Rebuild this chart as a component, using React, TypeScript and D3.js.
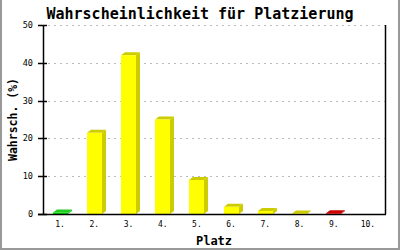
import React from "react";
import * as d3 from "d3";

const categories = ["1.", "2.", "3.", "4.", "5.", "6.", "7.", "8.", "9.", "10."];
const values = [0.4, 21.5, 42, 25, 9, 1.9, 0.8, 0.15, 0.2, 0];
const barColors = ["green", "yellow", "yellow", "yellow", "yellow", "yellow", "yellow", "yellow", "red", "yellow"];
const yTicks = [0, 10, 20, 30, 40, 50];
const title = "Wahrscheinlichkeit für Platzierung";
const xTitle = "Platz";
const yTitle = "Wahrsch. (%)";

const palette: Record<string, { front: string; dark: string }> = {
  yellow: { front: "#ffff00", dark: "#cccc00" },
  green: { front: "#00dd00", dark: "#22cc22" },
  red: { front: "#ff0000", dark: "#cc0000" },
};

export default function App() {
  const W = 400, H = 250;
  const left = 43, right = 385, top = 25, bottom = 214;
  const x = d3.scaleBand<string>().domain(categories).range([left, right]);
  const y = d3.scaleLinear().domain([0, 50]).range([bottom, top]);
  const bw = 15, dx = 4, dy = 3;
  const mono = "'DejaVu Sans Mono', 'Liberation Mono', monospace";

  return (
    <svg width={W} height={H} style={{ position: "absolute", left: 0, top: 0, background: "#fff" }}>
      <rect x={0} y={0} width={W} height={H} fill="#fff" />
      {/* frame */}
      <line x1={1} y1={0} x2={1} y2={H} stroke="#999" strokeWidth={2} />
      <line x1={399} y1={0} x2={399} y2={H} stroke="#999" strokeWidth={2} />
      <line x1={0} y1={249} x2={W} y2={249} stroke="#999" strokeWidth={2} />

      {/* gridlines */}
      {yTicks.filter((t) => t > 0).map((t) => (
        <line key={"g" + t} x1={48} x2={right} y1={Math.round(y(t)) + 0.5} y2={Math.round(y(t)) + 0.5}
          stroke="#bbbbbb" strokeDasharray="2,4" />
      ))}

      {/* bars */}
      {values.map((v, i) => {
        if (v <= 0) return null;
        const cx = (x(categories[i]) as number) + x.bandwidth() / 2;
        const x0 = Math.round(cx - bw / 2);
        const yT = y(v);
        const c = palette[barColors[i]];
        return (
          <g key={"b" + i}>
            <polygon
              points={`${x0 + bw},${yT} ${x0 + bw + dx},${yT - dy} ${x0 + bw + dx},${bottom - dy} ${x0 + bw},${bottom}`}
              fill={c.dark}
            />
            <polygon
              points={`${x0},${yT} ${x0 + dx},${yT - dy} ${x0 + bw + dx},${yT - dy} ${x0 + bw},${yT}`}
              fill={c.dark}
            />
            <rect x={x0} y={yT} width={bw} height={bottom - yT} fill={c.front} />
          </g>
        );
      })}

      {/* axes */}
      <line x1={left + 0.5} x2={left + 0.5} y1={top} y2={bottom} stroke="#000" strokeWidth={1.5} />
      <line x1={right + 0.5} x2={right + 0.5} y1={top} y2={bottom} stroke="#000" strokeWidth={1.5} />
      <line x1={38} x2={right + 1} y1={bottom + 0.5} y2={bottom + 0.5} stroke="#000" strokeWidth={1.5} />
      {yTicks.map((t) => (
        <g key={"t" + t}>
          <line x1={38} x2={47} y1={Math.round(y(t)) + 0.5} y2={Math.round(y(t)) + 0.5} stroke="#000" strokeWidth={1.5} />
          <text x={33} y={y(t)} dy="0.35em" textAnchor="end" fontFamily={mono} fontSize={8.5}>{t}</text>
        </g>
      ))}
      {categories.map((c) => (
        <text key={"x" + c} x={(x(c) as number) + x.bandwidth() / 2} y={226.5} textAnchor="middle"
          fontFamily={mono} fontSize={8}>{c}</text>
      ))}

      {/* titles */}
      <text x={200} y={18.5} textAnchor="middle" fontFamily={mono} fontWeight="bold" fontSize={15}>{title}</text>
      <text x={(left + right) / 2} y={244.5} textAnchor="middle" fontFamily={mono} fontWeight="bold" fontSize={12}>{xTitle}</text>
      <text transform={`translate(17,${(top + bottom) / 2}) rotate(-90)`} textAnchor="middle"
        fontFamily={mono} fontWeight="bold" fontSize={11.5}>{yTitle}</text>
    </svg>
  );
}
